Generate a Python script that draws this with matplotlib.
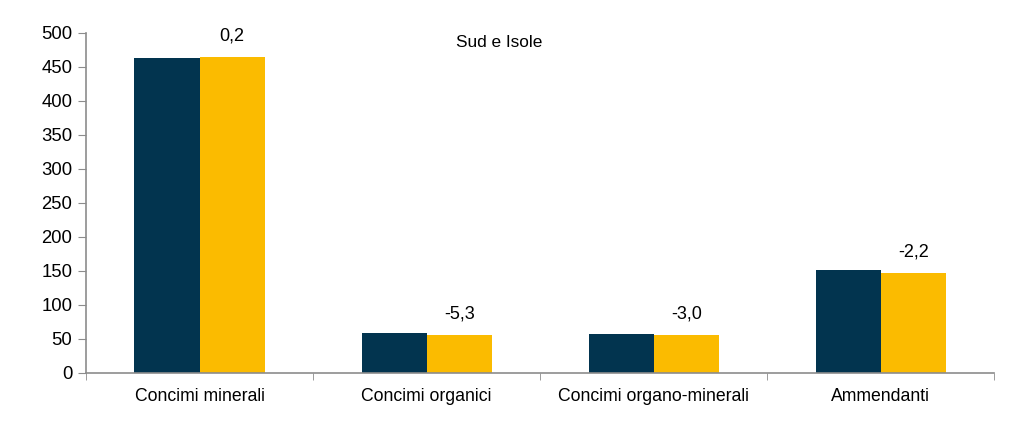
import numpy as np
import matplotlib.pyplot as plt
from matplotlib.ticker import FixedLocator

plt.rcParams['font.family'] = ['Liberation Sans', 'DejaVu Sans']

categorie = ['Concimi minerali', 'Concimi organici', 'Concimi organo-minerali', 'Ammendanti']
anno_prec = [463.5, 58.2, 57.4, 151.0]
anno_corr = [464.4, 55.1, 55.7, 147.7]
variazioni = ['0,2', '-5,3', '-3,0', '-2,2']

navy = '#02344f'
giallo = '#fbbb00'
grigio = '#8c8c8c'

fig = plt.figure(figsize=(10.24, 4.44), dpi=100)
ax = fig.add_axes([0.084, 0.16, 0.887, 0.7657])

x = np.arange(len(categorie))
w = 0.2865
ax.bar(x - w / 2, anno_prec, w, color=navy)
ax.bar(x + w / 2, anno_corr, w, color=giallo)

for xi, v, t in zip(x, anno_corr, variazioni):
    ax.annotate(t, (xi + w / 2, v), xytext=(0, 9), textcoords='offset points',
                ha='center', va='bottom', fontsize=13)

ax.set_xlim(-0.5, len(categorie) - 0.5)
ax.set_ylim(0, 500)
ax.set_yticks(np.arange(0, 501, 50))
ax.set_xticks(x)
ax.set_xticklabels(categorie, fontsize=12.7)
ax.xaxis.set_minor_locator(FixedLocator(np.arange(-0.5, len(categorie), 1.0)))
ax.tick_params(axis='x', which='major', length=0, pad=11)
ax.tick_params(axis='x', which='minor', length=5, color=grigio, direction='out')
ax.tick_params(axis='y', length=6, color=grigio, labelsize=13.3, pad=4)

for s in ['top', 'right']:
    ax.spines[s].set_visible(False)
for s in ['left', 'bottom']:
    ax.spines[s].set_color(grigio)
    ax.spines[s].set_linewidth(1.2)

ax.text(0.455, 0.971, 'Sud e Isole', transform=ax.transAxes, ha='center', va='center', fontsize=12.4)

fig.savefig('out.png', dpi=100)
